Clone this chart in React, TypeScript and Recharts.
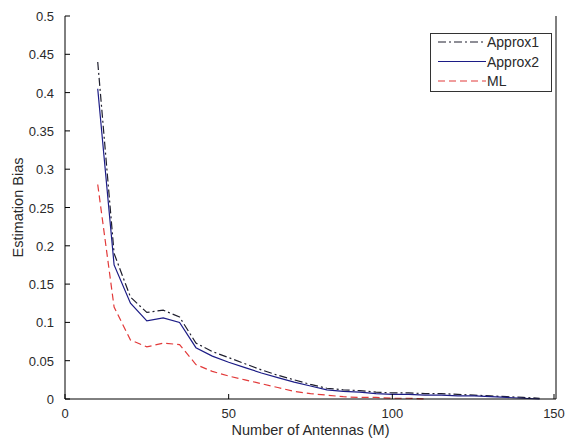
import { LineChart, Line, XAxis, YAxis, Legend } from 'recharts'

// number of antennas M
const antennas = [10, 15, 20, 25, 30, 35, 40, 45, 50, 55, 60, 65, 70, 75, 80, 85, 90, 95, 100, 105, 110, 115, 120, 125, 130, 135, 140, 145]
const approx1 = [0.44, 0.19, 0.133, 0.113, 0.116, 0.107, 0.073, 0.062, 0.054, 0.046, 0.038, 0.031, 0.025, 0.019, 0.014, 0.012, 0.011, 0.009, 0.008, 0.008, 0.007, 0.007, 0.006, 0.005, 0.004, 0.003, 0.002, 0.001]
const approx2 = [0.405, 0.175, 0.125, 0.102, 0.106, 0.1, 0.067, 0.056, 0.048, 0.041, 0.034, 0.028, 0.022, 0.017, 0.012, 0.01, 0.009, 0.007, 0.006, 0.006, 0.005, 0.005, 0.004, 0.004, 0.003, 0.002, 0.001, 0]
const ml = [0.28, 0.12, 0.077, 0.068, 0.073, 0.071, 0.045, 0.036, 0.03, 0.025, 0.02, 0.015, 0.01, 0.007, 0.005, 0.003, 0.002, 0.002, 0.001, 0.001, 0, null, null, null, null, null, null, null]

const xTicks = [0, 50, 100, 150]
const yTicks = [0, 0.05, 0.1, 0.15, 0.2, 0.25, 0.3, 0.35, 0.4, 0.45, 0.5]

const data = antennas.map((m, i) => ({ m, approx1: approx1[i], approx2: approx2[i], ml: ml[i] }))

const FONT = '"Liberation Sans", Arial, sans-serif'
const TXT = '#2a2a2a'

const series = [
  { key: 'approx1', name: 'Approx1', color: '#1f1f2e', dash: '8 3 2 3' },
  { key: 'approx2', name: 'Approx2', color: '#1c1c86', dash: undefined },
  { key: 'ml', name: 'ML', color: '#e23a3a', dash: '7 4' },
]

// matlab style inward ticks
const BottomTick = (p: any) => (
  <g>
    <line x1={p.x} x2={p.x} y1={p.y} y2={p.y - 5} stroke="#000" />
    <text x={p.x} y={p.y + 19} textAnchor="middle" fontSize={13} fill={TXT} fontFamily={FONT}>
      {p.payload.value}
    </text>
  </g>
)
const TopTick = (p: any) => <line x1={p.x} x2={p.x} y1={p.y} y2={p.y + 5} stroke="#000" />
const LeftTick = (p: any) => (
  <g>
    <line x1={p.x} x2={p.x + 5} y1={p.y} y2={p.y} stroke="#000" />
    <text x={p.x - 11} y={p.y + 5} textAnchor="end" fontSize={13} fill={TXT} fontFamily={FONT}>
      {p.payload.value}
    </text>
  </g>
)
const RightTick = (p: any) => <line x1={p.x} x2={p.x - 5} y1={p.y} y2={p.y} stroke="#000" />

const LegendBox = () => (
  <div style={{ width: 122, height: 59, border: '1px solid #333', background: '#fff', boxSizing: 'border-box', position: 'relative', fontFamily: FONT }}>
    <svg width={120} height={57} style={{ position: 'absolute', left: 0, top: 0 }}>
      {series.map((s, i) => (
        <g key={s.key}>
          <line x1={7} x2={55} y1={8 + i * 19.5} y2={8 + i * 19.5} stroke={s.color} strokeDasharray={s.dash} strokeWidth={1.2} />
          <text x={56} y={13 + i * 19.5} fontSize={14} fill={TXT} fontFamily={FONT}>
            {s.name}
          </text>
        </g>
      ))}
    </svg>
  </div>
)

export default function App() {
  return (
    <div style={{ position: 'absolute', left: 0, top: 0, width: 566, height: 441, background: '#fff' }}>
      <LineChart width={566} height={441} data={data} margin={{ top: 16, right: 0, left: 0, bottom: 12 }}>
        <XAxis
          xAxisId="b"
          dataKey="m"
          type="number"
          domain={[0, 150]}
          ticks={xTicks}
          height={30}
          stroke="#000"
          tickSize={0}
          tickMargin={0}
          tick={<BottomTick />}
          label={{ value: 'Number of Antennas (M)', position: 'insideBottom', offset: -6, fontSize: 14.5, fill: TXT, fontFamily: FONT }}
        />
        <XAxis xAxisId="t" dataKey="m" type="number" orientation="top" domain={[0, 150]} ticks={xTicks} height={0} stroke="#000" tickSize={0} tickMargin={0} tick={<TopTick />} />
        <YAxis
          yAxisId="l"
          type="number"
          domain={[0, 0.5]}
          ticks={yTicks}
          width={65}
          stroke="#000"
          tickSize={0}
          tickMargin={0}
          tick={<LeftTick />}
          label={{ value: 'Estimation Bias', angle: -90, position: 'insideLeft', offset: 18, fontSize: 14.5, fill: TXT, fontFamily: FONT, style: { textAnchor: 'middle' } }}
        />
        <YAxis yAxisId="r" type="number" orientation="right" domain={[0, 0.5]} ticks={yTicks} width={10} stroke="#000" tickSize={0} tickMargin={0} tick={<RightTick />} />
        {series.map((s) => (
          <Line
            key={s.key}
            xAxisId="b"
            yAxisId="l"
            type="linear"
            dataKey={s.key}
            name={s.name}
            stroke={s.color}
            strokeWidth={1.2}
            strokeDasharray={s.dash}
            dot={false}
            connectNulls={false}
            isAnimationActive={false}
          />
        ))}
        <Legend
          layout="horizontal"
          align="center"
          verticalAlign="middle"
          content={<LegendBox />}
          wrapperStyle={{ position: 'absolute', left: 430, top: 33, width: 122, height: 59 }}
        />
      </LineChart>
    </div>
  )
}
